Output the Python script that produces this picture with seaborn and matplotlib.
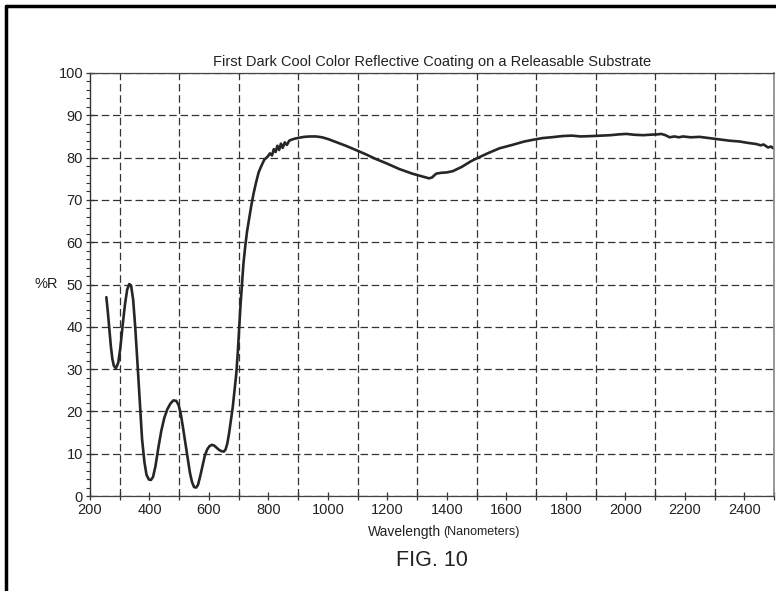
import matplotlib
matplotlib.use("Agg")
import matplotlib.pyplot as plt
from matplotlib.lines import Line2D
from matplotlib.ticker import MultipleLocator
import seaborn as sns
import pandas as pd

wavelength = [255, 260, 265, 270, 275, 280, 287, 295, 302, 310, 318, 325, 332, 338, 345, 352, 360, 368, 375, 383,
              390, 398, 405, 412, 420, 430, 440, 450, 460, 470, 480, 490, 498, 505, 512, 520, 528, 536, 543, 550,
              557, 563, 570, 578, 586, 594, 602, 610, 618, 626, 634, 642, 650, 656, 662, 668, 674, 680, 686, 692,
              697, 702, 706, 711, 716, 722, 728, 735, 742, 750, 758, 767, 776, 786, 797, 805, 812, 818, 824, 830,
              836, 842, 848, 855, 862, 870, 880, 890, 904, 920, 940, 960, 980, 1000, 1030, 1060, 1094, 1130, 1160, 1195,
              1240, 1284, 1320, 1340, 1350, 1364, 1380, 1400, 1420, 1450, 1480, 1500, 1540, 1577, 1620, 1660, 1689, 1720, 1750, 1790,
              1820, 1850, 1891, 1920, 1950, 1980, 2004, 2030, 2060, 2082, 2110, 2121, 2135, 2149, 2165, 2180, 2194, 2220, 2250, 2284,
              2320, 2350, 2385, 2410, 2430, 2441, 2455, 2465, 2480, 2490, 2500]
reflectance = [47.0, 43.5, 39.5, 35.5, 32.5, 30.8, 30.2, 31.5, 35.0, 40.5, 45.5, 48.8, 50.1, 49.8, 46.5, 40.0, 31.0, 21.5, 13.5, 8.0,
               5.0, 3.9, 3.8, 4.5, 7.0, 11.5, 15.5, 18.5, 20.5, 21.8, 22.6, 22.5, 21.5, 19.5, 16.5, 12.8, 9.0, 5.5, 3.3, 2.1,
               2.0, 2.6, 4.5, 7.0, 9.5, 11.0, 11.8, 12.1, 11.9, 11.4, 10.9, 10.6, 10.5, 11.0, 12.5, 15.0, 18.0, 21.0, 25.0, 29.0,
               34.0, 40.0, 45.0, 50.0, 55.0, 59.0, 62.5, 65.5, 68.5, 71.5, 74.0, 76.5, 78.0, 79.5, 80.2, 81.0, 80.5, 82.0, 81.3, 82.8,
               81.8, 83.3, 82.3, 83.6, 83.0, 84.0, 84.3, 84.5, 84.7, 84.9, 85.0, 85.0, 84.8, 84.4, 83.6, 82.8, 81.8, 80.7, 79.7, 78.7,
               77.3, 76.2, 75.5, 75.1, 75.3, 76.2, 76.4, 76.5, 76.8, 77.8, 79.1, 79.8, 81.1, 82.2, 83.0, 83.8, 84.2, 84.6, 84.8, 85.1,
               85.2, 85.0, 85.1, 85.2, 85.3, 85.5, 85.6, 85.4, 85.3, 85.4, 85.5, 85.6, 85.3, 84.8, 85.0, 84.8, 85.0, 84.8, 84.9, 84.6,
               84.3, 84.0, 83.8, 83.5, 83.3, 83.2, 82.9, 83.1, 82.4, 82.6, 82.1]

x_ticks = [200, 400, 600, 800, 1000, 1200, 1400, 1600, 1800, 2000, 2200, 2400]
y_ticks = [0, 10, 20, 30, 40, 50, 60, 70, 80, 90, 100]

sns.set_style("white")
plt.rcParams['font.family'] = ['Liberation Sans', 'DejaVu Sans']

fig = plt.figure(figsize=(7.76, 5.91), dpi=100)
ax = fig.add_axes([90/776, 1 - 496/591, (774 - 90)/776, (496 - 73)/591])

df = pd.DataFrame({"wl": wavelength, "R": reflectance})
sns.lineplot(data=df, x="wl", y="R", ax=ax, sort=False, estimator=None,
             color="#262626", linewidth=1.9)

ax.set_xlim(200, 2500)
ax.set_ylim(0, 100)
ax.set_xticks(x_ticks)
ax.set_xticklabels([str(t) for t in x_ticks])
ax.xaxis.set_minor_locator(MultipleLocator(100))
ax.set_yticks(y_ticks)
ax.set_yticklabels([str(t) for t in y_ticks])
ax.yaxis.set_minor_locator(MultipleLocator(2))

ax.grid(True, which="major", axis="y", linestyle=(0, (6, 3)), color="#333333", linewidth=0.9)
ax.grid(True, which="minor", axis="x", linestyle=(0, (6, 3)), color="#333333", linewidth=0.9)

ax.tick_params(axis="x", which="major", direction="inout", length=6, width=0.9,
               color="#333333", labelsize=10.5, labelcolor="#222222", pad=2)
ax.tick_params(axis="y", which="major", direction="inout", length=6, width=0.9,
               color="#333333", labelsize=10.5, labelcolor="#222222", pad=2)
ax.tick_params(axis="x", which="minor", direction="inout", length=6, width=0.9, color="#333333")
ax.tick_params(axis="y", which="minor", direction="out", length=3, width=0.8, color="#333333")
ax.tick_params(axis="both", which="both", left=True, bottom=True)

ax.spines["left"].set_color("#333333")
ax.spines["left"].set_linewidth(1.0)
ax.spines["right"].set_color("#888888")
ax.spines["right"].set_linewidth(1.2)
for s in ("top", "bottom"):
    ax.spines[s].set_color("#444444")
    ax.spines[s].set_linewidth(0.9)
    ax.spines[s].set_linestyle((0, (1, 1)))

ax.set_xlabel("")
ax.set_ylabel("%R", rotation=0, fontsize=10.5, color="#222222", va="center", ha="center")
ax.yaxis.set_label_coords(-0.064, 0.5)

ax.set_title("First Dark Cool Color Reflective Coating on a Releasable Substrate",
             fontsize=10.5, color="#222222", pad=5)

cx = (90 + 774) / 2 / 776
fig.text(cx + 0.012, 1 - 532/591, "Wavelength", ha="right", va="center", fontsize=10, color="#222222")
fig.text(cx + 0.015, 1 - 532/591, "(Nanometers)", ha="left", va="center", fontsize=9, color="#222222")
fig.text(cx, 1 - 561/591, "FIG. 10", ha="center", va="center", fontsize=15.5, color="#222222")

# outer frame (left and top edges of the scanned figure box)
fig.add_artist(Line2D([6/776, 6/776], [0, 1 - 6/591], transform=fig.transFigure, color="black", linewidth=2.5))
fig.add_artist(Line2D([6/776, 1], [1 - 6/591, 1 - 6/591], transform=fig.transFigure, color="black", linewidth=2.5))

fig.savefig("out.png", dpi=100)
